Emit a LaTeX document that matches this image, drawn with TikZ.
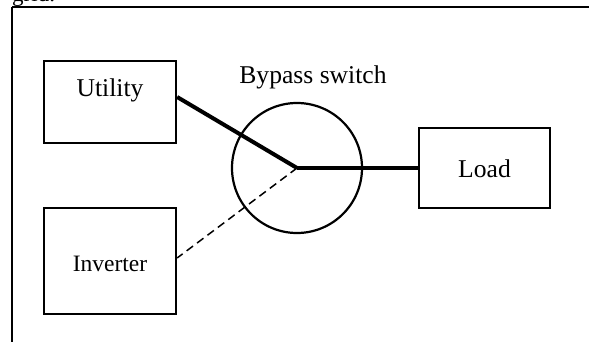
\documentclass[tikz,border=0pt]{standalone}
\usepackage{fontspec}
\setmainfont{Liberation Serif}
\begin{document}
\begin{tikzpicture}[x=1pt,y=-1pt,
  box/.style={draw, line width=2.3pt, inner sep=0pt, font=\fontsize{25.6}{30}\selectfont},
  thickline/.style={line width=4pt},
  dashline/.style={line width=1.5pt, dash pattern=on 8pt off 5pt},
  framebar/.style={line width=1.4pt}]
\useasboundingbox (0,0) rectangle (589,342);
\clip (0,0) rectangle (589,342);
% clipped text above the frame
\node[anchor=base west, inner sep=0pt, font=\fontsize{23}{28}\selectfont] (gridtext) at (12,1.5) {grid.};
% frame
\coordinate (ftl) at (12,7);
\coordinate (ftr) at (589,7);
\coordinate (fbl) at (12,342);
\draw[line width=2.2pt] (ftl) -- (ftr);
\draw[framebar] (ftl) -- (fbl);
% blocks
\node[box, minimum width=132pt, minimum height=82pt, text height=17pt, text depth=27pt] (utility) at (110,102) {Utility};
\node[box, minimum width=132pt, minimum height=106pt, text height=20pt, text depth=0pt, font=\fontsize{23.5}{28}\selectfont] (inverter) at (110,261) {Inverter};
\node[box, minimum width=131pt, minimum height=80pt, text height=20pt, text depth=0pt] (load) at (484.5,168) {Load};
% bypass switch
\node[circle, draw, line width=2.2pt, minimum size=130pt, inner sep=0pt] (sw) at (297,168) {};
\node[anchor=base, inner sep=0pt, font=\fontsize{25.6}{30}\selectfont] (swlabel) at (313,84) {Bypass switch};
% connections
\draw[thickline] ([yshift=5pt]utility.east) -- (sw.center);
\draw[thickline] (sw.center) -- (load.west);
\draw[dashline] (sw.center) -- ([yshift=3pt]inverter.east);
\end{tikzpicture}
\end{document}
